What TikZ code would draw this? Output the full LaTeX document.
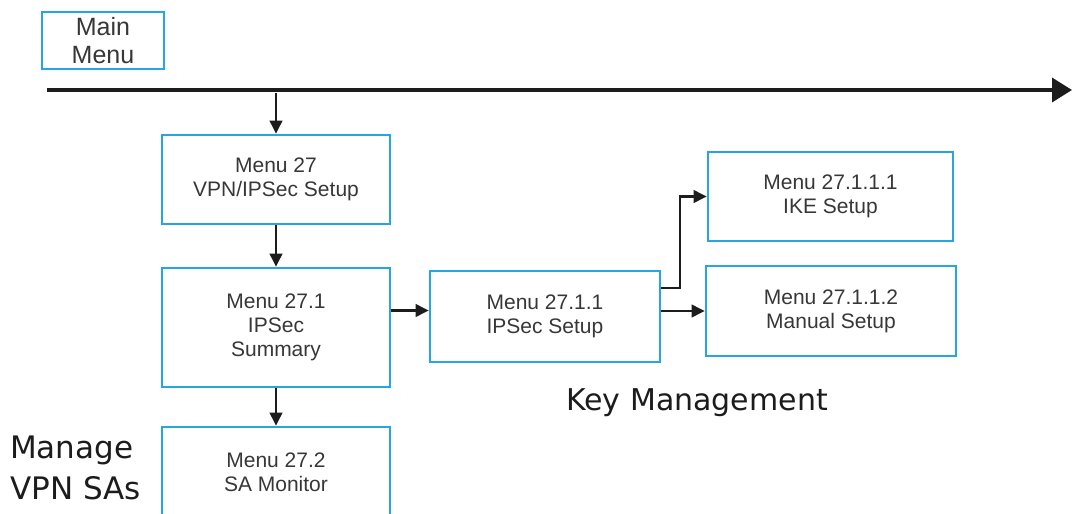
\documentclass[tikz,border=0pt]{standalone}
\usepackage{fontspec}
\setmainfont{Liberation Sans}
\newfontfamily\notefont{DejaVu Sans}
\usetikzlibrary{arrows.meta}
\definecolor{boxc}{RGB}{38,166,224}
\definecolor{textc}{RGB}{55,55,55}
\definecolor{inkc}{RGB}{28,28,28}

\begin{document}
\begin{tikzpicture}[x=1pt, y=-1pt, >={Triangle[length=13pt,width=12.5pt]},
  menu/.style={draw=boxc, line width=2.6pt, text=textc, align=center, inner sep=0pt,
    font=\fontsize{21}{24}\selectfont},
  link/.style={->, inkc, line width=2.2pt},
  note/.style={text=inkc, inner sep=0pt, font=\notefont\fontsize{30}{41}\selectfont}]
  \useasboundingbox (0,0) rectangle (1072,514);

  % menu boxes
  \node[menu, minimum width=122, minimum height=57, font=\fontsize{25}{28}\selectfont]
    (main) at (103,40.5) {Main\\Menu};
  \node[menu, minimum width=228, minimum height=89]  (m27)   at (276,179.5) {Menu 27\\VPN/IPSec Setup};
  \node[menu, minimum width=228, minimum height=119] (m271)  at (276,327.5) {Menu 27.1\\IPSec\\Summary};
  \node[menu, minimum width=228, minimum height=90]  (m272)  at (276,472)   {Menu 27.2\\SA Monitor};
  \node[menu, minimum width=230, minimum height=91]  (m2711) at (545,316.5) {Menu 27.1.1\\IPSec Setup};
  \node[menu, minimum width=245, minimum height=89]  (ike)   at (830.5,196.5) {Menu 27.1.1.1\\IKE Setup};
  \node[menu, minimum width=250, minimum height=90]  (manual) at (831,311)   {Menu 27.1.1.2\\Manual Setup};

  % main menu bus
  \coordinate (busL) at (47,90);
  \coordinate (busR) at (1072,90);
  \coordinate (drop) at (276,93);
  \draw[-{Triangle[length=20pt,width=24pt]}, inkc, line width=3.5pt] (busL) -- (busR);

  % links between menus
  \coordinate (in2711) at ([yshift=6]m2711.west);
  \coordinate (out2711) at ([yshift=28.5]m2711.east);
  \draw[link] (drop) -- (m27.north);
  \draw[link] (m27.south) -- (m271.north);
  \draw[link] (m271.south) -- (m272.north);
  \draw[link] (m271.east |- in2711) -- (in2711);
  \draw[link] (out2711) -- ++(19,0) |- (ike.west);
  \draw[link] (m2711.east |- manual.west) -- (manual.west);

  % group labels
  \node[note, anchor=base] (keymgmt) at (697,410) {Key Management};
  \node[note, font=\notefont\fontsize{31}{41}\selectfont, align=left, anchor=north west]
    (managesa) at (10,436) {Manage\\VPN SAs};
\end{tikzpicture}
\end{document}
